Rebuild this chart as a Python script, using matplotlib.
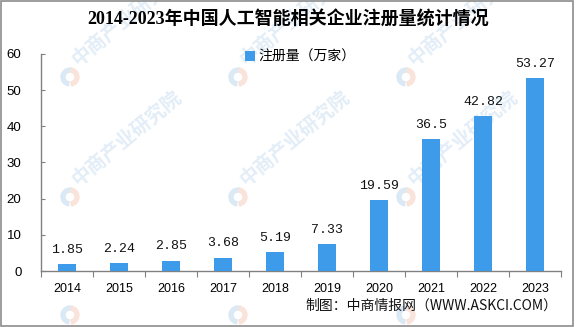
import matplotlib
matplotlib.use("Agg")
import matplotlib.pyplot as plt
from matplotlib.patches import Wedge, Rectangle
import numpy as np

years = ["2014", "2015", "2016", "2017", "2018", "2019", "2020", "2021", "2022", "2023"]
registrations = [1.85, 2.24, 2.85, 3.68, 5.19, 7.33, 19.59, 36.5, 42.82, 53.27]
value_labels = ["1.85", "2.24", "2.85", "3.68", "5.19", "7.33", "19.59", "36.5", "42.82", "53.27"]
yticks = [0, 10, 20, 30, 40, 50, 60]

title = "2014-2023年中国人工智能相关企业注册量统计情况"
legend_label = "注册量（万家）"
footer = "制图：中商情报网（WWW.ASKCI.COM）"
watermark = "中商产业研究院"

BAR = "#3d9be9"
CJK = ["Noto Sans CJK SC", "DejaVu Sans"]

fig = plt.figure(figsize=(5.76, 3.27), dpi=100)
W, H = 576, 327

# background layer in pixel units for the faint brand watermark
bg = fig.add_axes([0, 0, 1, 1], zorder=-1)
bg.set_xlim(0, W)
bg.set_ylim(H, 0)
bg.axis("off")
for row_y in [77, 197]:
    for col_x in [70, 238, 406]:
        bg.add_patch(Wedge((col_x, row_y), 9, 100, 280, width=4,
                           color="#dbe9f5", zorder=0))
        bg.add_patch(Wedge((col_x, row_y), 9, -80, 80, width=4,
                           color="#fae3da", zorder=0))
        bg.text(col_x + 10, row_y - 8, watermark, rotation=40,
                fontsize=14, fontweight="bold", family=CJK, color="#e2edf7",
                ha="left", va="bottom", rotation_mode="anchor", zorder=0)
for col_x in [70, 238, 406]:
    bg.add_patch(Wedge((col_x, 315), 9, 100, 280, width=4, color="#dbe9f5", zorder=0))
    bg.add_patch(Wedge((col_x, 315), 9, -80, 80, width=4, color="#fae3da", zorder=0))

# light frame around the figure
bg.add_patch(Rectangle((0.5, 0.5), W - 3.5, H - 2, fill=False,
                       edgecolor="#8c8c8c", linewidth=1.2, zorder=1))

ax = fig.add_axes([41 / W, 1 - 271 / H, 520 / W, 217 / H])
ax.set_facecolor("none")
x = np.arange(len(years))
ax.bar(x, registrations, width=0.33, color=BAR, zorder=3, label=legend_label)

for xi, v, lab in zip(x, registrations, value_labels):
    ax.annotate(lab, (xi, v), xytext=(0, 6), textcoords="offset points",
                ha="center", va="bottom", fontsize=9.5, family="Liberation Mono",
                color="#111111")

ax.set_xlim(-0.5, len(years) - 0.5)
ax.set_ylim(0, 60)
ax.set_yticks(yticks)
ax.set_yticklabels([str(t) for t in yticks], family="Liberation Sans", fontsize=9.5)
ax.tick_params(axis="y", direction="in", length=3, color="#808080", pad=14)

ax.set_xticks(np.arange(len(years) + 1) - 0.5)
ax.set_xticklabels([])
ax.tick_params(axis="x", which="major", direction="out", length=4, color="#808080")
ax.set_xticks(x, minor=True)
ax.set_xticklabels(years, minor=True, family="Liberation Sans", fontsize=9)
ax.tick_params(axis="x", which="minor", length=0, pad=9)

for side in ["top", "right"]:
    ax.spines[side].set_visible(False)
for side in ["left", "bottom"]:
    ax.spines[side].set_color("#808080")
    ax.spines[side].set_linewidth(1.0)

ax.legend(loc="upper left", bbox_to_anchor=(238 / W, 1 - 43 / H),
          bbox_transform=fig.transFigure, frameon=False,
          prop={"family": CJK, "size": 10}, handlelength=0.7, handleheight=0.7,
          handletextpad=0.3, borderpad=0)

fig.text(0.5, 1 - 20 / H, title, ha="center", va="center", fontsize=13,
         fontweight="bold", family=["Liberation Serif", "Noto Sans CJK SC"])
fig.text(431 / W, 1 - 306 / H, footer, ha="center", va="center", fontsize=10,
         family=CJK, color="#111111")

fig.savefig("out.png", dpi=100)
